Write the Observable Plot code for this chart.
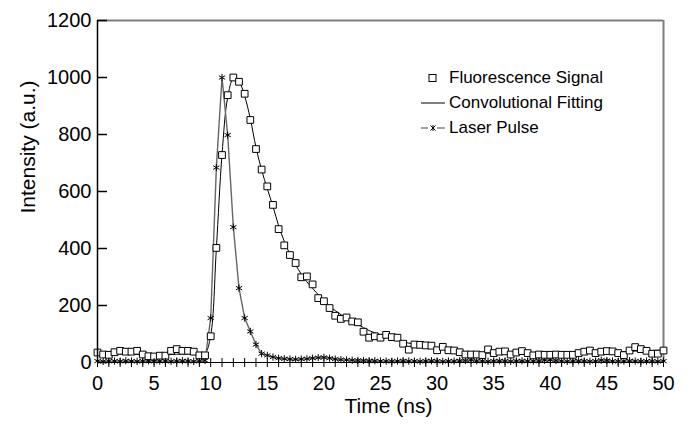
<!DOCTYPE html>
<html><head><meta charset="utf-8">
<script src="https://cdn.jsdelivr.net/npm/d3@7"></script>
<script src="https://cdn.jsdelivr.net/npm/@observablehq/plot@0.6"></script>
<style>
body{margin:0;background:#fff;font-family:"Liberation Sans",Arial,sans-serif;}
#wrap{position:relative;width:700px;height:429px;}
#legend{position:absolute;left:420px;top:65px;font-size:17px;color:#000;line-height:1;}
.row{display:flex;align-items:center;height:25px;white-space:nowrap;}
.row svg{width:26px;height:14px;margin-right:3px;flex:none;}
</style></head><body><div id="wrap"></div>
<script>
const time = [0,0.5,1,1.5,2,2.5,3,3.5,4,4.5,5,5.5,6,6.5,7,7.5,8,8.5,9,9.5,
10,10.5,11,11.5,12,12.5,13,13.5,14,14.5,15,15.5,16,16.5,17,17.5,18,18.5,19,19.5,
20,20.5,21,21.5,22,22.5,23,23.5,24,24.5,25,25.5,26,26.5,27,27.5,28,28.5,29,29.5,
30,30.5,31,31.5,32,32.5,33,33.5,34,34.5,35,35.5,36,36.5,37,37.5,38,38.5,39,39.5,
40,40.5,41,41.5,42,42.5,43,43.5,44,44.5,45,45.5,46,46.5,47,47.5,48,48.5,49,49.5,50];

const fluorescence = [35,28,27,36,41,38,38,41,28,22,21,24,24,41,47,41,41,38,25,25,
92,402,728,938,1000,985,943,851,749,677,618,553,468,411,377,349,299,302,274,226,
215,191,164,153,158,144,141,108,87,92,87,97,89,87,66,45,63,62,60,59,
43,55,43,42,36,28,28,28,26,46,33,38,39,28,35,40,33,25,28,27,
27,28,27,27,27,33,38,42,33,38,40,39,33,26,42,54,47,41,31,31,42];

const fitting = [32,31,31,30,30,29,29,28,27,26,25,25,26,28,29,30,30,30,30,32,
95,400,730,930,995,985,935,855,755,675,610,548,480,425,380,343,310,283,260,238,
218,198,182,168,156,145,134,122,112,104,97,91,85,79,73,68,64,60,56,53,
50,47,44,42,40,37,35,34,33,33,32,32,31,31,31,31,31,31,31,31,
31,31,31,31,32,32,33,33,34,35,36,36,37,38,39,40,41,42,42,43,44];

const laserPulse = [5,4,5,5,4,6,5,4,5,6,4,5,5,4,5,6,5,4,6,7,
156,684,1000,798,475,261,156,109,63,31,25,19,15,13,12,11,12,13,15,17,
18,15,12,10,9,8,7,7,6,6,5,5,4,5,6,5,5,4,5,6,
5,4,5,5,6,7,9,6,5,4,5,6,5,4,5,6,5,5,6,8,
9,7,5,4,5,6,5,4,5,8,7,5,4,5,6,5,4,5,5,4,5];

const yTicks = [0,200,400,600,800,1000,1200];
const xTicks = [0,5,10,15,20,25,30,35,40,45,50];
const xMinor = [0,1,2,3,4,5,6,7,8,9,10,11,12,13,14,15,16,17,18,19,20,21,22,23,24,25,
26,27,28,29,30,31,32,33,34,35,36,37,38,39,40,41,42,43,44,45,46,47,48,49,50];
const seriesNames = ["Fluorescence Signal","Convolutional Fitting","Laser Pulse"];
const xTitle = "Time (ns)";
const yTitle = "Intensity (a.u.)";

const fluoRows = time.map((t,i)=>({t, v: fluorescence[i]}));
const fitRows = time.map((t,i)=>({t, v: fitting[i]}));
const laserRows = time.map((t,i)=>({t, v: laserPulse[i]}));

const chart = Plot.plot({
  width:700, height:429,
  marginLeft:97, marginRight:37, marginTop:20, marginBottom:67,
  x:{domain:[0,50]}, y:{domain:[0,1200]},
  style:{fontFamily:"'Liberation Sans', Arial, sans-serif", background:"white", color:"black"},
  marks:[
    Plot.ruleY([1200],{stroke:"#7f7f7f", strokeWidth:2}),
    Plot.ruleX([50],{stroke:"#7f7f7f", strokeWidth:2}),
    Plot.line(fitRows,{x:"t",y:"v",stroke:"black",strokeWidth:1,curve:"catmull-rom"}),
    Plot.line(laserRows,{x:"t",y:"v",stroke:"#666",strokeWidth:1.4}),
    Plot.dot(laserRows,{x:"t",y:"v",symbol:"asterisk",r:3.4,stroke:"black",strokeWidth:1}),
    Plot.dot(fluoRows,{x:"t",y:"v",symbol:"square",r:3.8,fill:"white",stroke:"black",strokeWidth:1}),
    Plot.ruleX([0],{stroke:"black",strokeWidth:1.5}),
    Plot.ruleY([0],{stroke:"black",strokeWidth:1.2}),
    Plot.axisY({ticks:yTicks, tickSize:-10, tickPadding:16, fontSize:20, label:null, tickFormat:d=>String(d), strokeWidth:1.5}),
    Plot.axisX({ticks:xTicks, tickSize:0, tickPadding:13, fontSize:20, label:null, tickFormat:d=>String(d)}),
    Plot.axisX({ticks:xMinor, tickSize:5, tickFormat:()=>"", label:null}),
    Plot.axisX({ticks:xMinor, tickSize:-4, tickFormat:()=>"", label:null}),
    Plot.text([xTitle],{text:d=>d, frameAnchor:"bottom", dy:50, dx:8, fontSize:21}),
    Plot.text([yTitle],{text:d=>d, frameAnchor:"left", rotate:-90, dx:-69, dy:22, fontSize:21})
  ]
});
const wrap = document.getElementById("wrap");
wrap.appendChild(chart);

const legend = document.createElement("div");
legend.id = "legend";
const icons = [
  '<svg viewBox="0 0 26 14"><rect x="9" y="3.5" width="7" height="7" fill="white" stroke="black" stroke-width="1"/></svg>',
  '<svg viewBox="0 0 26 14"><line x1="1" y1="7" x2="25" y2="7" stroke="black" stroke-width="1"/></svg>',
  '<svg viewBox="0 0 26 14"><line x1="1" y1="7" x2="8" y2="7" stroke="#666" stroke-width="1.2"/><line x1="17" y1="7" x2="25" y2="7" stroke="#666" stroke-width="1.2"/><path d="M10.5,4.5L15.5,9.5M15.5,4.5L10.5,9.5M13,4L13,10" stroke="black" stroke-width="1"/></svg>'
];
seriesNames.forEach((name,i)=>{
  const row = document.createElement("div");
  row.className = "row";
  row.innerHTML = icons[i] + "<span>" + name + "</span>";
  legend.appendChild(row);
});
wrap.appendChild(legend);
</script>
</body></html>
